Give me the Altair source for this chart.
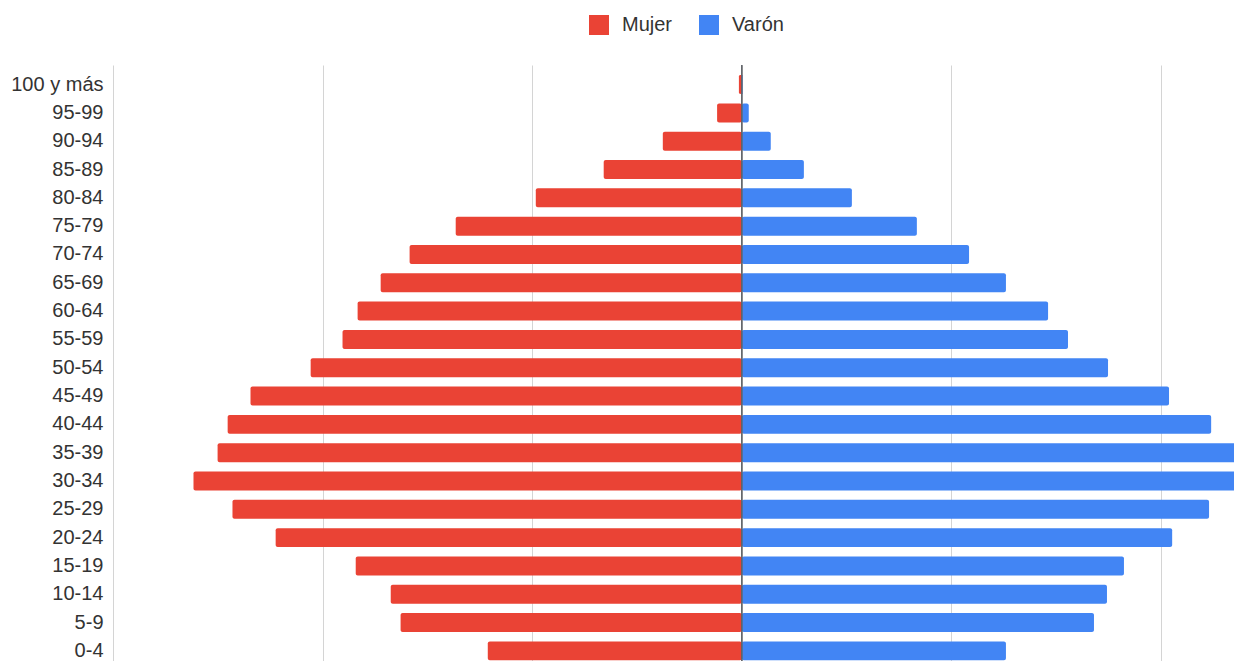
import altair as alt
import pandas as pd

ages = ["100 y más", "95-99", "90-94", "85-89", "80-84", "75-79", "70-74",
        "65-69", "60-64", "55-59", "50-54", "45-49", "40-44", "35-39",
        "30-34", "25-29", "20-24", "15-19", "10-14", "5-9", "0-4"]
mujer = [0.014, 0.118, 0.377, 0.659, 0.983, 1.365, 1.585, 1.723, 1.833, 1.905,
         2.057, 2.344, 2.453, 2.501, 2.616, 2.430, 2.224, 1.842, 1.675, 1.628, 1.212]
varon = [0.004, 0.033, 0.138, 0.296, 0.525, 0.835, 1.084, 1.260, 1.461, 1.556,
         1.747, 2.038, 2.239, 2.358, 2.500, 2.229, 2.053, 1.823, 1.742, 1.680, 1.260]
series = ["Mujer", "Varón"]
colors = ["#EA4335", "#4285F4"]
grid_values = [-3, -2, -1, 0, 1, 2]

rows = []
for a, m, v in zip(ages, mujer, varon):
    rows.append({"edad": a, "sexo": "Mujer", "valor": -m})
    rows.append({"edad": a, "sexo": "Varón", "valor": v})
df = pd.DataFrame(rows)

FONT = "Liberation Sans"

bars = alt.Chart(df).mark_bar(cornerRadius=2, clip=True).encode(
    y=alt.Y("edad:N", sort=ages, title=None,
            scale=alt.Scale(paddingInner=0.33, paddingOuter=0.19, align=0.94),
            axis=alt.Axis(ticks=False, domain=False, grid=False, labelPadding=10,
                          labelFontSize=20, labelColor="#333333", labelFont=FONT)),
    x=alt.X("valor:Q", stack=None, title=None,
            scale=alt.Scale(domain=[-3, 2.348], nice=False, zero=False),
            axis=alt.Axis(values=grid_values, labels=False, ticks=False, domain=False,
                          grid=True, gridColor="#d4d4d4", gridWidth=1)),
    color=alt.Color("sexo:N", scale=alt.Scale(domain=series, range=colors),
                    legend=alt.Legend(title=None, orient="none", legendX=476, legendY=-50,
                                      direction="horizontal", symbolType="square",
                                      symbolSize=400, symbolStrokeWidth=0,
                                      labelFontSize=20, labelFont=FONT,
                                      labelColor="#333333", labelOffset=13,
                                      columnPadding=26)),
)

zero = alt.Chart(pd.DataFrame({"z": [0]})).mark_rule(color="#5f6368", strokeWidth=1.6).encode(
    x=alt.X("z:Q")
)

chart = alt.layer(bars, zero).properties(
    width=1121, height=596,
    background="white",
    autosize=alt.AutoSizeParams(type="none"),
    padding={"left": 105, "top": 57, "right": 0, "bottom": 0},
).configure_view(stroke=None)

chart.save("out.html", embed_options={"renderer": "svg", "actions": False})
